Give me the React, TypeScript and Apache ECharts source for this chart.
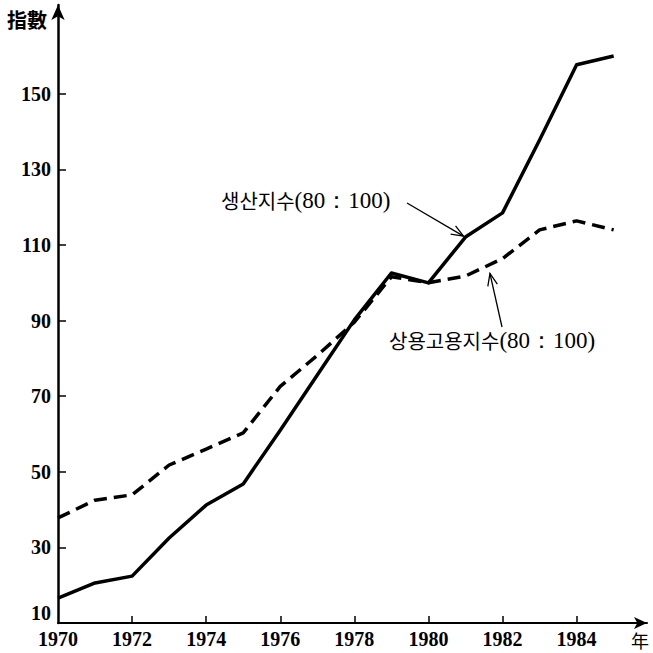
import React, { useEffect, useRef } from "react";
import * as echarts from "echarts";

const years = [1970, 1971, 1972, 1973, 1974, 1975, 1976, 1977, 1978, 1979, 1980, 1981, 1982, 1983, 1984, 1985];
const production = [16.6, 20.6, 22.4, 32.5, 41.2, 46.8, 61, 75.6, 90.2, 102.6, 100, 112.1, 118.5, 137.8, 157.7, 160];
const employment = [37.8, 42.5, 43.9, 51.8, 56, 60.3, 72.6, 80.8, 89.6, 101.6, 100, 101.8, 106.4, 114, 116.4, 114];
const yTickLabels = [10, 30, 50, 70, 90, 110, 130, 150];
const yTickMarks = [30, 50, 70, 90, 110, 130, 150];
const xTickLabels = [1970, 1972, 1974, 1976, 1978, 1980, 1982, 1984];
const xTickMarks = [1972, 1974, 1976, 1978, 1980, 1982, 1984];

const productionName = "생산지수";
const employmentName = "상용고용지수";
const baseNote = "(80：100)";

const NUM_FONT = '"Liberation Serif", "DejaVu Serif", serif';
const KR_FONT = '"Noto Sans CJK KR", sans-serif';

function arrow(from: number[], to: number[]) {
  const dx = to[0] - from[0];
  const dy = to[1] - from[1];
  const len = Math.sqrt(dx * dx + dy * dy);
  const ux = dx / len;
  const uy = dy / len;
  const a = (22 * Math.PI) / 180;
  const L = 13;
  const rot = (s: number) => [
    to[0] - L * (ux * Math.cos(s * a) - uy * Math.sin(s * a)),
    to[1] - L * (ux * Math.sin(s * a) + uy * Math.cos(s * a)),
  ];
  return [
    {
      type: "line",
      shape: { x1: from[0], y1: from[1], x2: to[0], y2: to[1] },
      style: { stroke: "#000", lineWidth: 1.3 },
      silent: true,
    },
    {
      type: "polyline",
      shape: { points: [rot(1), to, rot(-1)] },
      style: { stroke: "#000", lineWidth: 1.3, fill: null },
      silent: true,
    },
  ];
}

export default function App() {
  const ref = useRef<HTMLDivElement>(null);

  useEffect(() => {
    document.body.style.margin = "0";
    if (!ref.current) return;
    const chart = echarts.init(ref.current, null, { renderer: "svg" });

    const option: any = {
      animation: false,
      backgroundColor: "#fff",
      grid: { left: 58, right: 6, top: 5, bottom: 30 },
      xAxis: {
        type: "value",
        min: 1970,
        max: 1985.9,
        interval: 2,
        axisLine: {
          show: true,
          onZero: false,
          symbol: ["none", "arrow"],
          symbolSize: [9, 13],
          lineStyle: { color: "#000", width: 2 },
        },
        axisTick: {
          show: true,
          inside: true,
          length: 7,
          customValues: xTickMarks,
          lineStyle: { color: "#000", width: 1.5 },
        },
        axisLabel: {
          customValues: xTickLabels,
          formatter: (v: number) => String(v),
          color: "#000",
          fontFamily: NUM_FONT,
          fontSize: 20,
          fontWeight: "bold",
          margin: 6,
        },
        splitLine: { show: false },
      },
      yAxis: {
        type: "value",
        min: 10,
        max: 173.5,
        axisLine: {
          show: true,
          onZero: false,
          symbol: ["none", "arrow"],
          symbolSize: [10, 15],
          lineStyle: { color: "#000", width: 2.5 },
        },
        axisTick: {
          show: true,
          inside: true,
          length: 8,
          customValues: yTickMarks,
          lineStyle: { color: "#000", width: 1.5 },
        },
        axisLabel: {
          customValues: yTickLabels,
          formatter: (v: number) => (v === yTickLabels[0] ? "{low|" + v + "}" : String(v)),
          rich: {
            low: {
              fontFamily: NUM_FONT,
              fontSize: 20,
              fontWeight: "bold",
              color: "#000",
              padding: [0, 0, 20, 0],
            },
          },
          color: "#000",
          fontFamily: NUM_FONT,
          fontSize: 20,
          fontWeight: "bold",
          margin: 7,
        },
        splitLine: { show: false },
      },
      series: [
        {
          name: productionName,
          type: "line",
          symbol: "none",
          data: years.map((y, i) => [y, production[i]]),
          lineStyle: { color: "#000", width: 3.5, join: "round" },
          z: 3,
        },
        {
          name: employmentName,
          type: "line",
          symbol: "none",
          data: years.map((y, i) => [y, employment[i]]),
          lineStyle: { color: "#000", width: 3.5, type: [13, 7], cap: "butt" },
          z: 2,
        },
      ],
    };
    chart.setOption(option);

    const tip1 = chart.convertToPixel({ gridIndex: 0 }, [1981, 112.1]) as number[];
    const tip2 = chart.convertToPixel({ gridIndex: 0 }, [1981.66, 103]) as number[];

    const rich = {
      k: { fontFamily: KR_FONT, fontSize: 20, fill: "#000" },
      n: { fontFamily: NUM_FONT, fontSize: 23, fill: "#000" },
    };

    chart.setOption({
      graphic: [
        {
          type: "text",
          x: 7,
          y: 19,
          style: {
            text: "指數",
            fontFamily: KR_FONT,
            fontSize: 20,
            fontWeight: "bold",
            fill: "#000",
            verticalAlign: "middle",
          },
        },
        {
          type: "text",
          x: 640,
          y: 640,
          style: {
            text: "年",
            fontFamily: KR_FONT,
            fontSize: 18,
            fill: "#000",
            align: "center",
            verticalAlign: "middle",
          },
        },
        {
          type: "text",
          x: 221,
          y: 200,
          style: {
            text: "{k|" + productionName + "}{n|" + baseNote + "}",
            verticalAlign: "middle",
            rich,
          },
        },
        {
          type: "text",
          x: 389,
          y: 340,
          style: {
            text: "{k|" + employmentName + "}{n|" + baseNote + "}",
            verticalAlign: "middle",
            rich,
          },
        },
        ...arrow([407, 203], [tip1[0] - 2, tip1[1] - 1]),
        ...arrow([502, 327], [tip2[0], tip2[1] + 2]),
      ],
    });

    return () => chart.dispose();
  }, []);

  return <div ref={ref} style={{ width: 653, height: 653 }} />;
}
